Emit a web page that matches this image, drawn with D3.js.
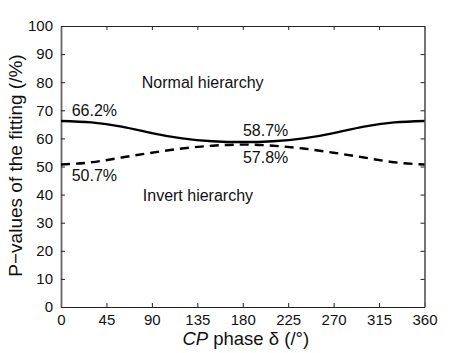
<!DOCTYPE html>
<html>
<head>
<meta charset="utf-8">
<script src="https://cdn.jsdelivr.net/npm/d3@7"></script>
<style>
  body { margin: 0; background: #fff; }
  svg { display: block; font-family: "Liberation Sans", Arial, sans-serif; }
</style>
</head>
<body>
<div id="root"></div>
<script>
const phases = [0, 30, 60, 90, 120, 150, 180, 210, 240, 270, 300, 330, 360];
const normalValues = [66.2, 65.7, 64.2, 61.9, 60.0, 59.0, 58.7, 59.0, 60.0, 61.9, 64.2, 65.7, 66.2];
const invertValues = [50.7, 51.5, 53.2, 54.9, 56.4, 57.4, 57.8, 57.4, 56.4, 54.9, 53.2, 51.5, 50.7];
const xTicks = [0, 45, 90, 135, 180, 225, 270, 315, 360];
const yTicks = [0, 10, 20, 30, 40, 50, 60, 70, 80, 90, 100];
const noteTexts = ["Normal hierarchy", "66.2%", "58.7%", "57.8%", "50.7%", "Invert hierarchy"];
// anchor of each note in data units: [phase, baseline value]
const noteAnchors = [[80, 77.9], [10.6, 68.0], [180.2, 60.9], [180.2, 51.2], [10.6, 44.9], [81, 37.8]];

chart(window.d3);

function chart(d3) {
  const width = 469;
  const height = 353;
  const margin = { top: 26, right: 44.5, bottom: 46, left: 61 };
  const innerW = width - margin.left - margin.right;
  const innerH = height - margin.top - margin.bottom;

  const svg = d3.select("#root").append("svg")
    .attr("width", width)
    .attr("height", height);

  const g = svg.append("g")
    .attr("transform", `translate(${margin.left},${margin.top})`);

  const x = d3.scaleLinear().domain([0, 360]).range([0, innerW]);
  const y = d3.scaleLinear().domain([0, 100]).range([innerH, 0]);

  // axes, ticks pointing inward on all four sides
  const styleAxis = (sel, stroke, sw) => {
    sel.select(".domain").attr("stroke", stroke).attr("stroke-width", sw).attr("fill", "none");
    sel.selectAll(".tick line").attr("stroke", "#222");
    sel.selectAll("text").attr("fill", "#111").style("font-size", "15px");
  };

  g.append("g")
    .attr("transform", `translate(0,${innerH})`)
    .call(d3.axisBottom(x).tickValues(xTicks).tickSizeInner(-4).tickSizeOuter(0).tickPadding(7))
    .call(styleAxis, "#222", 1.2);

  g.append("g")
    .call(d3.axisTop(x).tickValues(xTicks).tickSizeInner(-4).tickSizeOuter(0).tickFormat(""))
    .call(styleAxis, "#222", 1.2);

  g.append("g")
    .call(d3.axisLeft(y).tickValues(yTicks).tickSizeInner(-4).tickSizeOuter(0).tickPadding(8))
    .call(styleAxis, "#666", 1.8);

  g.append("g")
    .attr("transform", `translate(${innerW},0)`)
    .call(d3.axisRight(y).tickValues(yTicks).tickSizeInner(-4).tickSizeOuter(0).tickFormat(""))
    .call(styleAxis, "#666", 1.8);

  // curves
  const line = d3.line()
    .x(d => x(d[0]))
    .y(d => y(d[1]))
    .curve(d3.curveNatural);

  g.append("path")
    .datum(d3.zip(phases, normalValues))
    .attr("fill", "none")
    .attr("stroke", "#000")
    .attr("stroke-width", 2.4)
    .attr("d", line);

  g.append("path")
    .datum(d3.zip(phases, invertValues))
    .attr("fill", "none")
    .attr("stroke", "#000")
    .attr("stroke-width", 2.4)
    .attr("stroke-dasharray", "9,6")
    .attr("d", line);

  // annotations
  g.selectAll(".note")
    .data(d3.zip(noteTexts, noteAnchors))
    .join("text")
    .attr("class", "note")
    .attr("x", d => x(d[1][0]))
    .attr("y", d => y(d[1][1]))
    .style("font-size", "16px")
    .attr("fill", "#111")
    .text(d => d[0]);

  // axis titles
  const xLabel = svg.append("text")
    .attr("x", margin.left + innerW / 2 + 3)
    .attr("y", 345)
    .attr("text-anchor", "middle")
    .style("font-size", "18.5px")
    .attr("fill", "#111");
  xLabel.append("tspan").style("font-style", "italic").text("CP");
  xLabel.append("tspan").text(" phase δ (/°)");

  svg.append("text")
    .attr("transform", `translate(22,${margin.top + innerH / 2 - 1}) rotate(-90)`)
    .attr("text-anchor", "middle")
    .style("font-size", "19px")
    .attr("fill", "#111")
    .text("P−values of the fitting (/%)");
}
</script>
</body>
</html>
